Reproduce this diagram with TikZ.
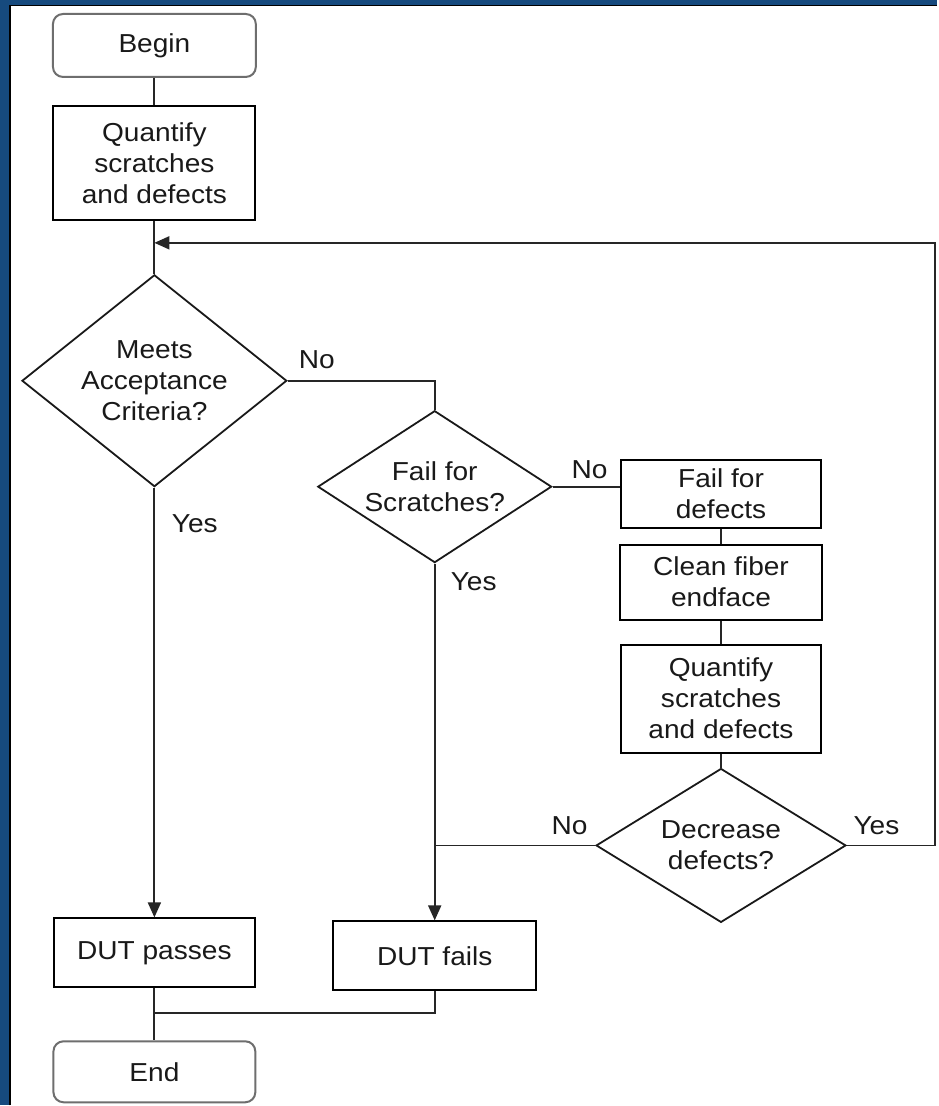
\documentclass[tikz,border=0pt]{standalone}
\usepackage{fontspec}
\setmainfont{Liberation Sans}[FakeStretch=1.08]
\usetikzlibrary{shapes.geometric,arrows.meta}
\definecolor{frameblue}{RGB}{22,74,126}
\definecolor{termgray}{RGB}{110,110,110}
\begin{document}
\begin{tikzpicture}[x=1pt,y=-1pt,
  txt/.style={font=\fontsize{26}{31}\selectfont, text=black!90},
  box/.style={txt, draw=black, line width=2pt, align=center, inner sep=0pt},
  term/.style={box, draw=termgray, rounded corners=10pt},
  dec/.style={txt, draw=black!90, line width=1.8pt, diamond, align=center, inner sep=-10pt},
  conn/.style={draw=black!85, line width=1.8pt},
  arr/.style={conn, -{Triangle[length=15pt,width=13pt]}},
  lbl/.style={txt, inner sep=0pt}]
\fill[white] (0,0) rectangle (938,1106);
\fill[frameblue] (0,0) rectangle (938,5);
\fill[frameblue] (0,0) rectangle (9,1106);
\draw[line width=1.5pt] (10,1106) -- (10,5.5) -- (938,5.5);
\useasboundingbox (0,0) rectangle (938,1106);

% nodes
\node[term, minimum width=203, minimum height=63] (begin) at (154.5,45.5) {Begin};
\node[box, minimum width=202, minimum height=114] (q1) at (154.5,163) {Quantify\\scratches\\and defects};
\node[dec, minimum width=265, minimum height=212] (d1) at (154.5,381) {Meets\\Acceptance\\Criteria?};
\node[dec, minimum width=234, minimum height=152] (d2) at (435,487) {Fail for\\Scratches?};
\node[box, minimum width=201, minimum height=68] (fd) at (721.5,494) {Fail for\\defects};
\node[box, minimum width=203, minimum height=75] (cl) at (721.5,582.5) {Clean fiber\\endface};
\node[box, minimum width=200, minimum height=108] (q2) at (721.5,699) {Quantify\\scratches\\and defects};
\node[dec, minimum width=250, minimum height=154] (d3) at (721.5,846) {Decrease\\defects?};
\node[box, minimum width=201, minimum height=69] (dp) at (154.5,953.5) {DUT passes};
\node[box, minimum width=203, minimum height=69] (df) at (435,956.5) {DUT fails};
\node[term, minimum width=202, minimum height=61] (end) at (154.5,1072.5) {End};

% labels
\node[lbl] (no1) at (317,360) {No};
\node[lbl] (no2) at (590,470) {No};
\node[lbl] (no3) at (570,826) {No};
\node[lbl] (yes1) at (195,524) {Yes};
\node[lbl] (yes2) at (474,582) {Yes};
\node[lbl] (yes3) at (877,826) {Yes};

% helper coordinates
\coordinate (jn) at (154.5,243);
\coordinate (rt) at (936,243);
\coordinate (jb) at (154.5,1014);

% connectors
\draw[conn] (begin) -- (q1);
\draw[conn] (q1) -- (d1);
\draw[conn] (d1.east) -| (d2.north);
\draw[conn] (d2.east) -- (d2.east -| fd.west);
\draw[conn] (fd) -- (cl);
\draw[conn] (cl) -- (q2);
\draw[conn] (q2) -- (d3);
\draw[arr] (d3.east) -| (rt) -- (jn);
\draw[conn] (d3.west) -- (d3.west -| d2.south);
\draw[arr] (d2.south) -- (df.north);
\draw[arr] (d1.south) -- (dp.north);
\draw[conn] (dp) -- (end);
\draw[conn] (df.south) |- (jb);
\end{tikzpicture}
\end{document}
